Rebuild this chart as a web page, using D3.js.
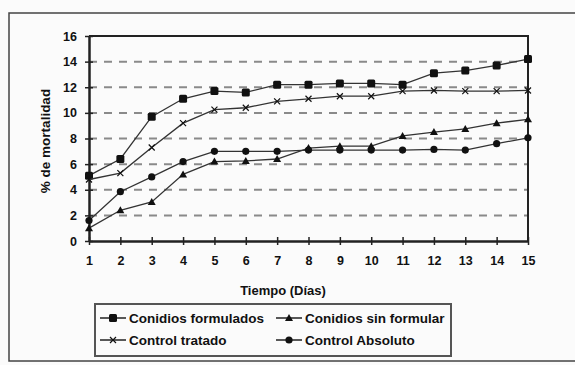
<!DOCTYPE html>
<html>
<head>
<meta charset="utf-8">
<script src="https://cdn.jsdelivr.net/npm/d3@7"></script>
<style>
  html, body { margin: 0; padding: 0; background: #fbfbfb; }
  svg { display: block; }
  text { font-family: "Liberation Sans", Arial, sans-serif; font-weight: bold; fill: #111; }
</style>
</head>
<body>
<svg id="chart" width="575" height="365"></svg>
<script>
const days = [1, 2, 3, 4, 5, 6, 7, 8, 9, 10, 11, 12, 13, 14, 15];
const yTicks = [0, 2, 4, 6, 8, 10, 12, 14, 16];
const conidiosFormulados = [5.1, 6.4, 9.7, 11.1, 11.7, 11.6, 12.2, 12.2, 12.3, 12.3, 12.2, 13.1, 13.3, 13.7, 14.2];
const controlTratado = [4.8, 5.3, 7.3, 9.2, 10.25, 10.4, 10.9, 11.1, 11.3, 11.3, 11.7, 11.75, 11.7, 11.7, 11.75];
const conidiosSinFormular = [1.0, 2.4, 3.05, 5.2, 6.2, 6.25, 6.4, 7.25, 7.4, 7.4, 8.2, 8.5, 8.75, 9.2, 9.5];
const controlAbsoluto = [1.6, 3.85, 5.0, 6.2, 7.0, 7.0, 7.0, 7.1, 7.1, 7.1, 7.1, 7.15, 7.1, 7.6, 8.05];
const seriesNames = ["Conidios formulados", "Conidios sin formular", "Control tratado", "Control Absoluto"];
const xTitle = "Tiempo (Días)";
const yTitle = "% de mortalidad";

const series = [
  { name: seriesNames[0], values: conidiosFormulados, marker: "square" },
  { name: seriesNames[1], values: conidiosSinFormular, marker: "triangle" },
  { name: seriesNames[2], values: controlTratado, marker: "cross" },
  { name: seriesNames[3], values: controlAbsoluto, marker: "circle" }
];

const svg = d3.select("#chart");

// outer frame
svg.append("rect").attr("x", 9).attr("y", 13).attr("width", 600).attr("height", 348)
  .attr("fill", "none").attr("stroke", "#444").attr("stroke-width", 1.5);

const pLeft = 89, pRight = 528, pTop = 36, pBottom = 241;
const x = d3.scaleLinear().domain([1, 15]).range([pLeft, pRight]);
const y = d3.scaleLinear().domain([0, 16]).range([pBottom, pTop]);

// gridlines
svg.append("g").selectAll("line").data(yTicks.filter(d => d > 0 && d < 16)).join("line")
  .attr("x1", pLeft).attr("x2", pRight)
  .attr("y1", d => y(d)).attr("y2", d => y(d))
  .attr("stroke", "#8a8a8a").attr("stroke-width", 2).attr("stroke-dasharray", "8,7");

// plot border top & right
svg.append("path")
  .attr("d", `M${pLeft},${pTop}H${pRight}V${pBottom}`)
  .attr("fill", "none").attr("stroke", "#222").attr("stroke-width", 2);

// axes
const yAxis = d3.axisLeft(y).tickValues(yTicks).tickSize(0).tickPadding(12).tickFormat(d3.format("d"));
const yg = svg.append("g").attr("transform", `translate(${pLeft},0)`).call(yAxis);
yg.select(".domain").attr("stroke", "#222").attr("stroke-width", 2.5);
yg.selectAll("text").attr("font-size", 12.5).style("font-family", "'Liberation Sans', Arial, sans-serif").style("font-weight", "bold");
yg.selectAll(".tick").append("line").attr("x1", -4).attr("x2", 4).attr("stroke", "#222").attr("stroke-width", 1.5);

const xAxis = d3.axisBottom(x).tickValues(days).tickSize(0).tickPadding(15).tickFormat(d3.format("d"));
const xg = svg.append("g").attr("transform", `translate(0,${pBottom})`).call(xAxis);
xg.select(".domain").attr("stroke", "#222").attr("stroke-width", 2.5);
xg.selectAll("text").attr("font-size", 12.5).style("font-family", "'Liberation Sans', Arial, sans-serif").style("font-weight", "bold");
xg.selectAll(".tick").append("line").attr("y1", -4).attr("y2", 4).attr("stroke", "#222").attr("stroke-width", 1.5);

// titles
svg.append("text").attr("x", 283).attr("y", 295).attr("text-anchor", "middle").attr("font-size", 13).text(xTitle);
svg.append("text").attr("transform", "translate(50,141) rotate(-90)").attr("text-anchor", "middle").attr("font-size", 13.5).text(yTitle);

function drawMarker(g, type, cx, cy) {
  if (type === "square") {
    g.append("rect").attr("x", cx - 4).attr("y", cy - 4).attr("width", 8).attr("height", 8).attr("rx", 1.5).attr("fill", "#111");
  } else if (type === "circle") {
    g.append("circle").attr("cx", cx).attr("cy", cy).attr("r", 3.6).attr("fill", "#111");
  } else if (type === "triangle") {
    g.append("path").attr("d", `M${cx},${cy - 4}L${cx + 4},${cy + 3}L${cx - 4},${cy + 3}Z`).attr("fill", "#111");
  } else {
    g.append("path").attr("d", `M${cx - 3},${cy - 3}L${cx + 3},${cy + 3}M${cx - 3},${cy + 3}L${cx + 3},${cy - 3}`)
      .attr("stroke", "#111").attr("stroke-width", 1.2);
  }
}

const line = d3.line().x((d, i) => x(days[i])).y(d => y(d));
series.forEach(s => {
  const g = svg.append("g");
  g.append("path").attr("d", line(s.values)).attr("fill", "none").attr("stroke", "#333").attr("stroke-width", 1.3);
  s.values.forEach((v, i) => drawMarker(g, s.marker, x(days[i]), y(v)));
});

// legend
svg.append("rect").attr("x", 95).attr("y", 304).attr("width", 356).attr("height", 52)
  .attr("fill", "none").attr("stroke", "#555").attr("stroke-width", 2);
const legendPos = [
  { s: series[0], lx: 100, ly: 318 },
  { s: series[1], lx: 276, ly: 318 },
  { s: series[2], lx: 100, ly: 340 },
  { s: series[3], lx: 276, ly: 340 }
];
legendPos.forEach(p => {
  const g = svg.append("g");
  g.append("line").attr("x1", p.lx).attr("x2", p.lx + 26).attr("y1", p.ly).attr("y2", p.ly).attr("stroke", "#222").attr("stroke-width", 1.5);
  drawMarker(g, p.s.marker, p.lx + 13, p.ly);
  g.append("text").attr("x", p.lx + 29).attr("y", p.ly + 5).attr("font-size", 13.5).text(p.s.name);
});
</script>
</body>
</html>
